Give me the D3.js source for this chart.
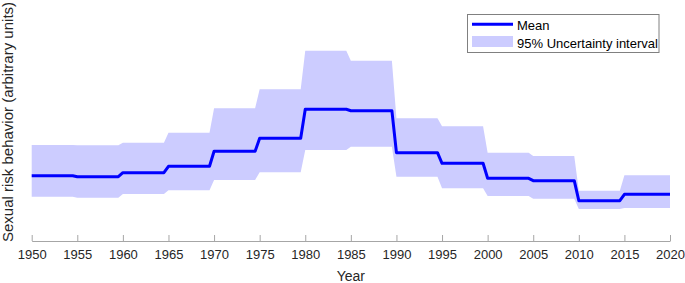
<!DOCTYPE html>
<html>
<head>
<meta charset="utf-8">
<script src="https://cdn.jsdelivr.net/npm/d3@7"></script>
<style>
  html, body { margin: 0; padding: 0; background: #fff; }
  svg { display: block; font-family: "Liberation Sans", Arial, sans-serif; }
</style>
</head>
<body>
<svg id="chart" width="685" height="283"></svg>
<script>
// Period start years (each value holds for 5 years)
const years = [1950, 1955, 1960, 1965, 1970, 1975, 1980, 1985, 1990, 1995, 2000, 2005, 2010, 2015];
// Arbitrary units
const meanValues  = [65.3, 64.3, 68.3, 74.7, 89.7, 102.7, 131.7, 130.3, 88.3, 77.7, 62.7, 60.3, 40.3, 46.7];
const upperValues = [96.0, 95.7, 98.3, 108.3, 132.7, 151.7, 190.3, 180.3, 122.7, 114.7, 88.3, 85.0, 50.3, 65.7];
const lowerValues = [44.3, 43.3, 47.0, 50.7, 61.0, 68.7, 91.0, 94.3, 64.3, 52.7, 45.0, 42.3, 32.0, 33.0];
const xTicks = [1950, 1955, 1960, 1965, 1970, 1975, 1980, 1985, 1990, 1995, 2000, 2005, 2010, 2015, 2020];
const legendLabels = ["Mean", "95% Uncertainty interval"];

const svg = d3.select("#chart");
const x = d3.scaleLinear().domain([1950, 2020]).range([31.7, 670]);
const y = d3.scaleLinear().domain([0, 241]).range([241, 0]);

// Build step points: value holds from t to t+4.5, then ramps to next value at t+5
function stepPoints(vals) {
  const pts = [];
  vals.forEach((v, i) => {
    const t = years[i];
    pts.push([t, v]);
    if (i < vals.length - 1) pts.push([t + 4.5, v]);
    else pts.push([t + 5, v]);
  });
  return pts;
}
const meanPts = stepPoints(meanValues);
const upPts = stepPoints(upperValues);
const loPts = stepPoints(lowerValues);
const bandPts = upPts.map((p, i) => ({ t: p[0], hi: p[1], lo: loPts[i][1] }));

svg.append("path")
  .datum(bandPts)
  .attr("fill", "#ccccff")
  .attr("stroke", "none")
  .attr("d", d3.area().x(d => x(d.t)).y0(d => y(d.lo)).y1(d => y(d.hi)));

svg.append("path")
  .datum(meanPts)
  .attr("fill", "none")
  .attr("stroke", "#0000ff")
  .attr("stroke-width", 3)
  .attr("stroke-linejoin", "round")
  .attr("d", d3.line().x(d => x(d[0])).y(d => y(d[1])));

// X axis
const xAxis = d3.axisBottom(x).tickValues(xTicks).tickFormat(d3.format("d")).tickSizeInner(-6).tickSizeOuter(0).tickPadding(9);
const gx = svg.append("g").attr("transform", "translate(0,241)").call(xAxis);
gx.select(".domain").attr("stroke", "#a6a6a6").attr("stroke-width", 1);
gx.selectAll(".tick line").attr("stroke", "#a6a6a6");
gx.selectAll(".tick text").attr("fill", "#262626").attr("font-size", 13).attr("font-family", "Liberation Sans, Arial, sans-serif");

svg.append("text")
  .attr("x", x(1985)).attr("y", 281)
  .attr("text-anchor", "middle")
  .attr("fill", "#262626").attr("font-size", 14)
  .text("Year");

svg.append("text")
  .attr("transform", "translate(12.5,122) rotate(-90)")
  .attr("text-anchor", "middle")
  .attr("fill", "#262626").attr("font-size", 15)
  .text("Sexual risk behavior (arbitrary units)");

// Legend
const lg = svg.append("g");
lg.append("rect").attr("x", 467.5).attr("y", 14.5).attr("width", 191.5).attr("height", 38)
  .attr("fill", "#fff").attr("stroke", "#808080").attr("stroke-width", 1);
lg.append("line").attr("x1", 472).attr("x2", 513).attr("y1", 24.3).attr("y2", 24.3)
  .attr("stroke", "#0000ff").attr("stroke-width", 3);
lg.append("rect").attr("x", 472).attr("y", 36).attr("width", 41).attr("height", 11).attr("fill", "#ccccff");
lg.selectAll("text.lbl").data(legendLabels).enter().append("text")
  .attr("class", "lbl")
  .attr("x", 517).attr("y", (d, i) => 30 + i * 18.3)
  .attr("fill", "#000").attr("font-size", 13)
  .text(d => d);
</script>
</body>
</html>
